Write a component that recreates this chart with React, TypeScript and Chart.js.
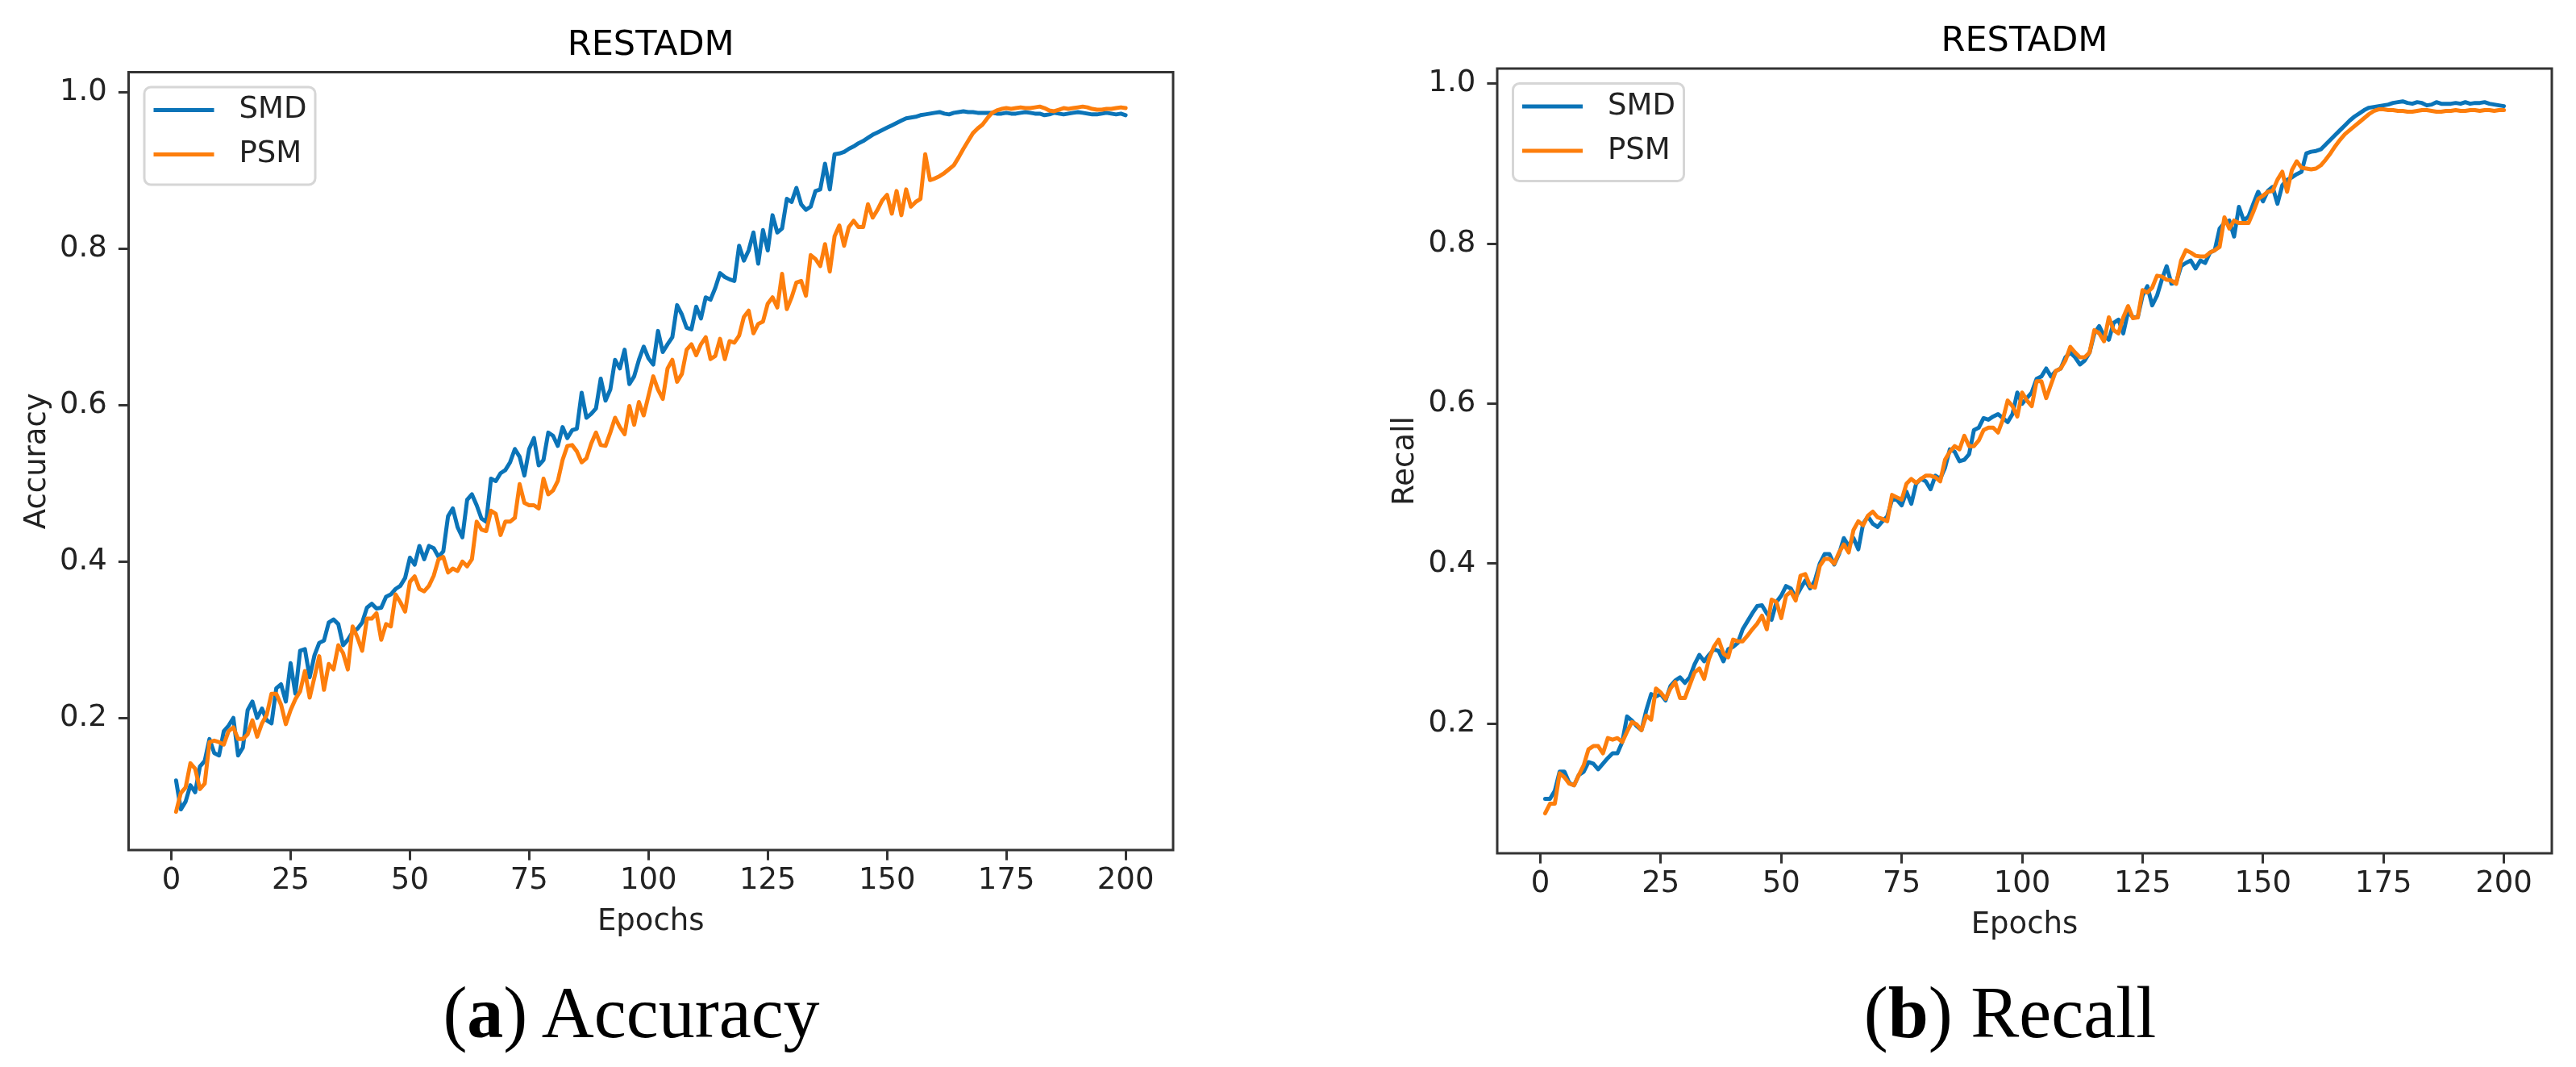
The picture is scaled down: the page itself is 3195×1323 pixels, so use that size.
import { useEffect, useRef } from "react";
import { Chart, registerables } from "chart.js";

Chart.register(...registerables);

// x categories (epochs 1..200) and tick labels
const epochs = Array.from({ length: 200 }, (_, i) => i + 1);
const xTicks = [0, 25, 50, 75, 100, 125, 150, 175, 200];
const yTicks = [0.2, 0.4, 0.6, 0.8, 1.0];
const seriesNames = ["SMD", "PSM"];

// (a) Accuracy
const accSMD = [
  0.12, 0.083, 0.093, 0.114, 0.105, 0.138, 0.145, 0.173, 0.155, 0.152,
  0.183, 0.19, 0.2, 0.152, 0.162, 0.21, 0.221, 0.2, 0.212, 0.197,
  0.193, 0.238, 0.243, 0.221, 0.27, 0.231, 0.286, 0.288, 0.252, 0.28,
  0.296, 0.299, 0.322, 0.326, 0.32, 0.293, 0.3, 0.31, 0.314, 0.322,
  0.341, 0.346, 0.34, 0.341, 0.355, 0.358, 0.365, 0.369, 0.379, 0.405,
  0.396, 0.42, 0.403, 0.42, 0.417, 0.406, 0.413, 0.458, 0.468, 0.444,
  0.431, 0.479, 0.486, 0.472, 0.455, 0.451, 0.506, 0.503, 0.513, 0.517,
  0.527, 0.544, 0.534, 0.51, 0.544, 0.558, 0.523, 0.53, 0.565, 0.561,
  0.548, 0.572, 0.558, 0.568, 0.57, 0.616, 0.584, 0.589, 0.596, 0.634,
  0.606, 0.62, 0.658, 0.647, 0.671, 0.627, 0.637, 0.658, 0.675, 0.66,
  0.652, 0.695, 0.668, 0.678, 0.687, 0.728, 0.716, 0.699, 0.697, 0.726,
  0.711, 0.738, 0.735, 0.75, 0.769, 0.764, 0.761, 0.759, 0.804, 0.785,
  0.798, 0.821, 0.781, 0.824, 0.798, 0.843, 0.821, 0.826, 0.864, 0.86,
  0.878, 0.857, 0.85, 0.854, 0.874, 0.876, 0.909, 0.876, 0.921, 0.922,
  0.924, 0.928, 0.931, 0.935, 0.938, 0.942, 0.946, 0.949, 0.952, 0.955,
  0.958, 0.961, 0.964, 0.967, 0.968, 0.969, 0.971, 0.972, 0.973, 0.974,
  0.975, 0.973, 0.972, 0.974, 0.975, 0.976, 0.975, 0.975, 0.974, 0.974,
  0.974, 0.974, 0.973, 0.973, 0.974, 0.973, 0.973, 0.974, 0.975, 0.974,
  0.973, 0.973, 0.971, 0.972, 0.974, 0.973, 0.972, 0.973, 0.974, 0.975,
  0.974, 0.973, 0.972, 0.972, 0.973, 0.974, 0.973, 0.972, 0.973, 0.971,
];

const accPSM = [
  0.08, 0.104, 0.111, 0.142, 0.135, 0.109, 0.116, 0.169, 0.171, 0.169,
  0.166, 0.183, 0.188, 0.173, 0.173, 0.179, 0.197, 0.176, 0.193, 0.204,
  0.231, 0.231, 0.217, 0.192, 0.21, 0.224, 0.234, 0.26, 0.226, 0.252,
  0.279, 0.236, 0.269, 0.262, 0.293, 0.283, 0.262, 0.317, 0.303, 0.286,
  0.327, 0.327, 0.334, 0.3, 0.32, 0.317, 0.358, 0.348, 0.336, 0.374,
  0.381, 0.365, 0.362, 0.369, 0.382, 0.403, 0.406, 0.386, 0.391, 0.388,
  0.4, 0.394, 0.403, 0.451, 0.441, 0.439, 0.465, 0.461, 0.434, 0.451,
  0.451, 0.456, 0.499, 0.475, 0.472, 0.472, 0.468, 0.506, 0.486, 0.491,
  0.503, 0.53, 0.548, 0.549, 0.541, 0.527, 0.532, 0.551, 0.565, 0.549,
  0.548, 0.565, 0.584, 0.572, 0.563, 0.599, 0.575, 0.604, 0.587, 0.612,
  0.637, 0.62, 0.608, 0.647, 0.658, 0.63, 0.64, 0.671, 0.678, 0.664,
  0.678, 0.687, 0.659, 0.663, 0.685, 0.659, 0.682, 0.68, 0.689, 0.713,
  0.721, 0.692, 0.704, 0.707, 0.73, 0.738, 0.725, 0.768, 0.723, 0.738,
  0.757, 0.759, 0.74, 0.792, 0.787, 0.778, 0.806, 0.771, 0.816, 0.83,
  0.804, 0.828, 0.836, 0.828, 0.828, 0.857, 0.84, 0.85, 0.862, 0.869,
  0.845, 0.874, 0.843, 0.876, 0.854, 0.86, 0.864, 0.921, 0.888, 0.89,
  0.893, 0.897, 0.902, 0.907, 0.917, 0.928, 0.938, 0.948, 0.954, 0.959,
  0.967, 0.974, 0.977, 0.979, 0.98, 0.979, 0.98, 0.981, 0.98, 0.98,
  0.981, 0.982, 0.98, 0.977, 0.976, 0.978, 0.98, 0.979, 0.98, 0.981,
  0.982, 0.981, 0.979, 0.978, 0.978, 0.979, 0.979, 0.98, 0.981, 0.98,
];

// (b) Recall
const recSMD = [
  0.106, 0.106, 0.116, 0.14, 0.14, 0.126, 0.123, 0.136, 0.14, 0.152,
  0.15, 0.143, 0.15, 0.157, 0.163, 0.163, 0.177, 0.209, 0.204, 0.197,
  0.192, 0.217, 0.237, 0.234, 0.237, 0.229, 0.247, 0.254, 0.258, 0.251,
  0.258, 0.274, 0.286, 0.278, 0.286, 0.293, 0.291, 0.278, 0.293, 0.296,
  0.301, 0.318, 0.328, 0.338, 0.347, 0.348, 0.338, 0.33, 0.352, 0.36,
  0.372, 0.369, 0.358, 0.369, 0.379, 0.369, 0.379, 0.4, 0.412, 0.412,
  0.399, 0.412, 0.432, 0.422, 0.432, 0.418, 0.45, 0.459, 0.45, 0.446,
  0.453, 0.459, 0.48, 0.48, 0.473, 0.49, 0.475, 0.5, 0.506, 0.503,
  0.493, 0.51, 0.506, 0.52, 0.543, 0.54, 0.528, 0.53, 0.537, 0.567,
  0.57, 0.582, 0.58, 0.584, 0.587, 0.582, 0.577, 0.587, 0.614, 0.6,
  0.607, 0.614, 0.631, 0.634, 0.644, 0.634, 0.641, 0.644, 0.658, 0.664,
  0.658, 0.649, 0.654, 0.664, 0.688, 0.697, 0.685, 0.68, 0.701, 0.705,
  0.688, 0.715, 0.708, 0.708, 0.735, 0.747, 0.723, 0.735, 0.755, 0.772,
  0.75, 0.752, 0.772, 0.776, 0.779, 0.769, 0.779, 0.776, 0.789, 0.792,
  0.819, 0.826, 0.829, 0.809, 0.846, 0.829, 0.834, 0.85, 0.865, 0.853,
  0.866, 0.871, 0.85, 0.873, 0.88, 0.883, 0.887, 0.89, 0.913, 0.915,
  0.916, 0.918, 0.924, 0.93, 0.936, 0.942, 0.948, 0.954, 0.959, 0.963,
  0.967, 0.97, 0.971, 0.972, 0.973, 0.974, 0.976, 0.977, 0.978, 0.976,
  0.975, 0.977, 0.976, 0.973, 0.974, 0.977, 0.975, 0.975, 0.975, 0.976,
  0.975, 0.977, 0.975, 0.976, 0.976, 0.977, 0.975, 0.974, 0.973, 0.972,
];

const recPSM = [
  0.088, 0.1, 0.1, 0.138, 0.133, 0.125, 0.123, 0.136, 0.148, 0.168,
  0.172, 0.172, 0.163, 0.182, 0.18, 0.182, 0.177, 0.19, 0.202, 0.199,
  0.192, 0.21, 0.205, 0.244, 0.239, 0.231, 0.244, 0.252, 0.232, 0.232,
  0.248, 0.264, 0.269, 0.256, 0.281, 0.296, 0.305, 0.288, 0.283, 0.305,
  0.303, 0.303, 0.31, 0.318, 0.325, 0.335, 0.318, 0.355, 0.352, 0.332,
  0.36, 0.365, 0.354, 0.385, 0.387, 0.372, 0.37, 0.397, 0.406, 0.406,
  0.4, 0.414, 0.424, 0.414, 0.442, 0.453, 0.448, 0.46, 0.465, 0.458,
  0.456, 0.453, 0.486, 0.483, 0.48, 0.5, 0.506, 0.501, 0.506, 0.51,
  0.51, 0.508, 0.503, 0.53, 0.54, 0.547, 0.543, 0.56, 0.547, 0.547,
  0.554, 0.567, 0.57, 0.57, 0.564, 0.58, 0.604, 0.597, 0.584, 0.614,
  0.604, 0.597, 0.628, 0.628, 0.607, 0.624, 0.641, 0.644, 0.654, 0.671,
  0.664, 0.658, 0.658, 0.664, 0.692, 0.688, 0.678, 0.708, 0.692, 0.688,
  0.708, 0.722, 0.707, 0.708, 0.742, 0.739, 0.745, 0.76, 0.759, 0.755,
  0.754, 0.75, 0.779, 0.792, 0.789, 0.785, 0.784, 0.784, 0.789, 0.792,
  0.796, 0.833, 0.819, 0.829, 0.826, 0.826, 0.826, 0.84, 0.856, 0.86,
  0.865, 0.866, 0.88, 0.89, 0.865, 0.892, 0.903, 0.895, 0.894, 0.893,
  0.894, 0.898, 0.905, 0.913, 0.922, 0.93, 0.937, 0.942, 0.947, 0.952,
  0.957, 0.962, 0.966, 0.968, 0.968, 0.967, 0.967, 0.966, 0.966, 0.965,
  0.965, 0.966, 0.967, 0.967, 0.966, 0.965, 0.965, 0.966, 0.966, 0.967,
  0.966, 0.966, 0.967, 0.967, 0.966, 0.967, 0.967, 0.966, 0.967, 0.967,
];

const BLUE = "#0b74b8";
const ORANGE = "#fd7e0c";
const INK = "#222";
const FONT = "DejaVu Sans";
const CANVAS_H = 1180;

interface PanelProps {
  left: number;
  width: number;
  area: { left: number; top: number; right: number; bottom: number };
  yLabel: string;
  yMin: number;
  yMax: number;
  smd: number[];
  psm: number[];
}

function Panel({ left, width, area, yLabel, yMin, yMax, smd, psm }: PanelProps) {
  const ref = useRef<HTMLCanvasElement | null>(null);

  useEffect(() => {
    if (!ref.current) return;

    // frame, title, axis labels and the matplotlib-style legend
    const decor = {
      id: "decor",
      afterDatasetsDraw(chart: Chart) {
        const { ctx, chartArea: a } = chart;
        ctx.save();
        ctx.strokeStyle = "#333";
        ctx.lineWidth = 3;
        ctx.strokeRect(a.left, a.top, a.right - a.left, a.bottom - a.top);
        ctx.restore();
      },
      afterDraw(chart: Chart) {
        const { ctx, chartArea: a } = chart;
        const cx = (a.left + a.right) / 2;
        ctx.save();
        ctx.fillStyle = "#000";
        ctx.textAlign = "center";
        ctx.textBaseline = "alphabetic";
        ctx.font = `43px "${FONT}"`;
        ctx.fillText("RESTADM", cx, a.top - 22);

        ctx.fillStyle = INK;
        ctx.font = `37px "${FONT}"`;
        ctx.fillText("Epochs", cx, a.bottom + 99);

        ctx.save();
        ctx.translate(a.left - 104, (a.top + a.bottom) / 2);
        ctx.rotate(-Math.PI / 2);
        ctx.fillText(yLabel, 0, 0);
        ctx.restore();

        // legend
        const bx = a.left + 19.5;
        const by = a.top + 18.5;
        const bw = 212;
        const bh = 121;
        ctx.beginPath();
        ctx.roundRect(bx, by, bw, bh, 8);
        ctx.fillStyle = "rgba(255,255,255,0.8)";
        ctx.fill();
        ctx.strokeStyle = "#d6d6d6";
        ctx.lineWidth = 3;
        ctx.stroke();

        const colors = [BLUE, ORANGE];
        seriesNames.forEach((name, i) => {
          const ry = a.top + 47 + i * 55;
          ctx.beginPath();
          ctx.moveTo(a.left + 31, ry);
          ctx.lineTo(a.left + 106, ry);
          ctx.strokeStyle = colors[i];
          ctx.lineWidth = 5;
          ctx.stroke();
          ctx.fillStyle = INK;
          ctx.textAlign = "left";
          ctx.textBaseline = "middle";
          ctx.fillText(name, a.left + 137, ry);
        });
        ctx.restore();
      },
    };

    const tickFont = { family: FONT, size: 37 };

    const chart = new Chart(ref.current, {
      type: "line",
      data: {
        labels: epochs,
        datasets: [
          {
            label: seriesNames[0],
            data: smd,
            borderColor: BLUE,
            borderWidth: 5,
            pointRadius: 0,
            tension: 0,
            borderJoinStyle: "round",
            borderCapStyle: "round",
            order: 1,
          },
          {
            label: seriesNames[1],
            data: psm,
            borderColor: ORANGE,
            borderWidth: 5,
            pointRadius: 0,
            tension: 0,
            borderJoinStyle: "round",
            borderCapStyle: "round",
            order: 0,
          },
        ],
      },
      options: {
        animation: false,
        responsive: false,
        devicePixelRatio: 1,
        layout: {
          padding: { top: area.top, right: width - area.right, bottom: 0, left: 0 },
        },
        plugins: {
          legend: { display: false },
          tooltip: { enabled: false },
          title: { display: false },
        },
        scales: {
          x: {
            type: "linear",
            min: -8.95,
            max: 209.95,
            afterBuildTicks: (s) => {
              s.ticks = xTicks.map((v) => ({ value: v }));
            },
            afterFit: (s) => {
              s.height = CANVAS_H - area.bottom;
              s.paddingLeft = 0;
              s.paddingRight = 0;
            },
            grid: {
              display: true,
              drawOnChartArea: false,
              drawTicks: true,
              tickLength: 12.6,
              tickWidth: 3,
              tickColor: "#333",
            },
            border: { display: false },
            ticks: {
              autoSkip: false,
              maxRotation: 0,
              padding: 4,
              color: INK,
              font: tickFont,
              callback: (v) => String(v),
            },
          },
          y: {
            min: yMin,
            max: yMax,
            afterBuildTicks: (s) => {
              s.ticks = yTicks.map((v) => ({ value: v }));
            },
            afterFit: (s) => {
              s.width = area.left;
              s.paddingTop = 0;
              s.paddingBottom = 0;
            },
            grid: {
              display: true,
              drawOnChartArea: false,
              drawTicks: true,
              tickLength: 12.6,
              tickWidth: 3,
              tickColor: "#333",
            },
            border: { display: false },
            ticks: {
              autoSkip: false,
              padding: 14,
              color: INK,
              font: tickFont,
              callback: (v) => Number(v).toFixed(1),
            },
          },
        },
      },
      plugins: [decor],
    });

    return () => chart.destroy();
  }, [width, area, yLabel, yMin, yMax, smd, psm]);

  return (
    <canvas
      ref={ref}
      width={width}
      height={CANVAS_H}
      style={{ position: "absolute", left, top: 0, width, height: CANVAS_H }}
    />
  );
}

const captionStyle = {
  position: "absolute" as const,
  top: 1211,
  transform: "translateX(-50%)",
  font: '90px "Liberation Serif"',
  lineHeight: 1,
  whiteSpace: "nowrap" as const,
  color: "#000",
};

const areaA = { left: 159.5, top: 89.5, right: 1455, bottom: 1054 };
const areaB = { left: 260, top: 85, right: 1568, bottom: 1058 };

export default function App() {
  return (
    <div
      style={{
        position: "absolute",
        left: 0,
        top: 0,
        width: 3195,
        height: 1323,
        background: "#fff",
        overflow: "hidden",
      }}
    >
      <Panel left={0} width={1597} area={areaA} yLabel="Accuracy" yMin={0.031} yMax={1.026} smd={accSMD} psm={accPSM} />
      <Panel left={1597} width={1598} area={areaB} yLabel="Recall" yMin={0.038} yMax={1.019} smd={recSMD} psm={recPSM} />
      <div style={{ ...captionStyle, left: 783 }}>
        (<b>a</b>) Accuracy
      </div>
      <div style={{ ...captionStyle, left: 2493 }}>
        (<b>b</b>) Recall
      </div>
    </div>
  );
}
